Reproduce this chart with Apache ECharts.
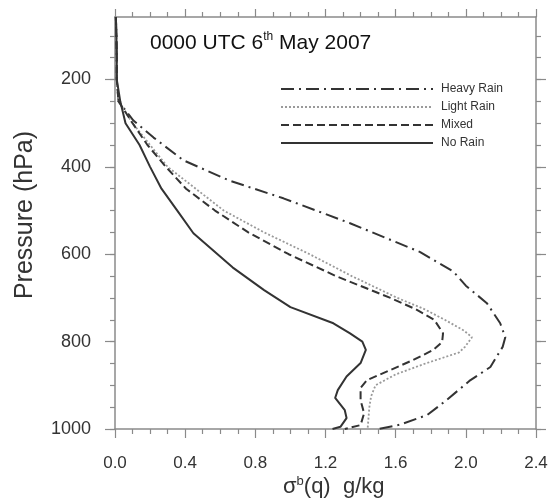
<!DOCTYPE html>
<html><head><meta charset="utf-8">
<script src="https://cdn.jsdelivr.net/npm/echarts@6/dist/echarts.min.js"></script>
<style>html,body{margin:0;padding:0;background:#fff}#c{width:551px;height:502px}</style>
</head><body><div id="c"></div>
<script>
// Heavy Rain (dash-dot)
const heavyP = [57, 100, 150, 200, 250, 294, 333, 385, 431, 472, 529, 595, 640, 672, 712, 758, 790, 812, 858, 890, 934, 968, 990, 1000];
const heavyX = [0.005, 0.008, 0.01, 0.01, 0.02, 0.105, 0.22, 0.39, 0.65, 0.96, 1.34, 1.74, 1.93, 2.0, 2.12, 2.196, 2.225, 2.21, 2.14, 2.02, 1.89, 1.78, 1.625, 1.50];
// Light Rain (dotted)
const lightP = [57, 100, 150, 200, 250, 300, 350, 400, 450, 500, 550, 600, 650, 700, 725, 750, 775, 790, 812, 825, 850, 875, 900, 925, 950, 975, 1000];
const lightX = [0.005, 0.008, 0.01, 0.01, 0.02, 0.10, 0.20, 0.30, 0.46, 0.62, 0.85, 1.11, 1.35, 1.61, 1.76, 1.88, 1.99, 2.035, 1.995, 1.96, 1.77, 1.60, 1.485, 1.46, 1.45, 1.445, 1.44];
// Mixed (dashed)
const mixedP = [57, 100, 150, 200, 250, 300, 350, 400, 450, 500, 550, 600, 650, 700, 725, 750, 781, 801, 819, 842, 865, 888, 906, 934, 964, 991, 1000];
const mixedX = [0.005, 0.008, 0.01, 0.01, 0.02, 0.10, 0.185, 0.29, 0.405, 0.57, 0.76, 0.99, 1.26, 1.57, 1.71, 1.82, 1.87, 1.865, 1.815, 1.70, 1.57, 1.437, 1.40, 1.40, 1.42, 1.40, 1.31];
// No Rain (solid)
const noRainP = [57, 100, 150, 200, 250, 300, 350, 400, 450, 500, 552, 630, 682, 721, 758, 781, 800, 819, 849, 880, 911, 929, 957, 975, 995, 1000];
const noRainX = [0.005, 0.008, 0.01, 0.01, 0.03, 0.06, 0.14, 0.20, 0.265, 0.355, 0.447, 0.67, 0.85, 1.0, 1.245, 1.34, 1.41, 1.43, 1.40, 1.32, 1.27, 1.255, 1.31, 1.32, 1.285, 1.24];

const seriesNames = ['Heavy Rain', 'Light Rain', 'Mixed', 'No Rain'];
const xTicks = [0.0, 0.4, 0.8, 1.2, 1.6, 2.0, 2.4];
const pLabels = [200, 400, 600, 800, 1000];
const pMinorTicks = [100, 150, 200, 250, 300, 350, 400, 450, 500, 550, 600, 650, 700, 750, 800, 850, 900, 950, 1000];

const zip = (xs, ps) => xs.map((x, i) => [x, ps[i]]);
const axisCol = '#8a8a8a';
const txtCol = '#333';
const FONT = 'Liberation Sans';

const chart = echarts.init(document.getElementById('c'), null, {renderer: 'canvas'});
const lineBase = {type: 'line', symbol: 'none', showSymbol: false, smooth: false, xAxisIndex: 0, yAxisIndex: 0, z: 5};
const tickAxisY = (pos, vals, len, showLine) => ({
  type: 'value', position: pos, inverse: true, min: 57, max: 1000,
  axisLine: {show: showLine, onZero: false, lineStyle: {color: axisCol, width: 1.5}},
  axisTick: {show: true, customValues: vals, length: len, lineStyle: {color: axisCol, width: 1.2}},
  axisLabel: {show: false}, splitLine: {show: false}
});
const option = {
  backgroundColor: '#fff',
  animation: false,
  color: ['#333', '#9a9a9a', '#333', '#333'],
  grid: {left: 115, right: 15, top: 17, bottom: 73},
  legend: {
    orient: 'vertical', left: 280, top: 83, itemWidth: 152, itemHeight: 12, itemGap: 6, padding: 0,
    data: seriesNames,
    itemStyle: {opacity: 0},
    textStyle: {fontFamily: FONT, fontSize: 12, color: txtCol, padding: [0, 0, 0, 3]}
  },
  xAxis: [
    {type: 'value', position: 'bottom', min: 0, max: 2.4, interval: 0.4,
      axisLine: {onZero: false, lineStyle: {color: axisCol, width: 1.5}},
      axisTick: {length: 9, lineStyle: {color: axisCol, width: 1.2}},
      minorTick: {show: true, splitNumber: 4, length: 5, lineStyle: {color: axisCol, width: 1.2}},
      axisLabel: {fontFamily: FONT, fontSize: 17, color: txtCol, margin: 26, formatter: v => v.toFixed(1)},
      splitLine: {show: false}, minorSplitLine: {show: false}},
    {type: 'value', position: 'top', min: 0, max: 2.4, interval: 0.4,
      axisLine: {onZero: false, lineStyle: {color: axisCol, width: 1.5}},
      axisTick: {length: 8, lineStyle: {color: axisCol, width: 1.2}},
      minorTick: {show: true, splitNumber: 4, length: 5, lineStyle: {color: axisCol, width: 1.2}},
      axisLabel: {show: false}, splitLine: {show: false}, minorSplitLine: {show: false}}
  ],
  yAxis: [
    {type: 'value', position: 'left', inverse: true, min: 57, max: 1000,
      axisLine: {show: true, onZero: false, lineStyle: {color: axisCol, width: 1.5}},
      axisTick: {show: true, customValues: pMinorTicks, length: 5, lineStyle: {color: axisCol, width: 1.2}},
      axisLabel: {show: true, customValues: pLabels, fontFamily: FONT, fontSize: 18, color: txtCol, margin: 24,
        formatter: v => String(v)},
      splitLine: {show: false}},
    tickAxisY('right', pMinorTicks, 5, true),
    tickAxisY('left', pLabels, 10, false),
    tickAxisY('right', pLabels, 10, false)
  ],
  series: [
    Object.assign({}, lineBase, {name: seriesNames[0], data: zip(heavyX, heavyP),
      lineStyle: {color: '#333', width: 2, type: [13, 5, 2, 5]}}),
    Object.assign({}, lineBase, {name: seriesNames[1], data: zip(lightX, lightP),
      lineStyle: {color: '#9a9a9a', width: 1.8, type: [2, 2]}}),
    Object.assign({}, lineBase, {name: seriesNames[2], data: zip(mixedX, mixedP),
      lineStyle: {color: '#333', width: 2, type: [8, 4]}}),
    Object.assign({}, lineBase, {name: seriesNames[3], data: zip(noRainX, noRainP),
      lineStyle: {color: '#333', width: 2, type: 'solid'}})
  ],
  graphic: [
    {type: 'text', left: 150, top: 31, style: {
      text: '{m|0000 UTC 6}{s|th}{m| May 2007}',
      rich: {m: {fontFamily: FONT, fontSize: 21, fill: '#111', verticalAlign: 'bottom'},
             s: {fontFamily: FONT, fontSize: 12, fill: '#111', verticalAlign: 'top', padding: [0, 0, 11, 0]}}}},
    {type: 'text', rotation: Math.PI / 2, x: 25, y: 215,
      style: {text: 'Pressure (hPa)', fontFamily: FONT, fontSize: 25, fill: txtCol, align: 'center', verticalAlign: 'middle'}},
    {type: 'text', left: 283, top: 475, style: {
      text: '{m|σ}{s|b}{m|(q)  g/kg}',
      rich: {m: {fontFamily: FONT, fontSize: 22, fill: txtCol, verticalAlign: 'bottom'},
             s: {fontFamily: FONT, fontSize: 13, fill: txtCol, verticalAlign: 'top', padding: [0, 0, 10, 0]}}}}
  ]
};
chart.setOption(option);
</script></body></html>
